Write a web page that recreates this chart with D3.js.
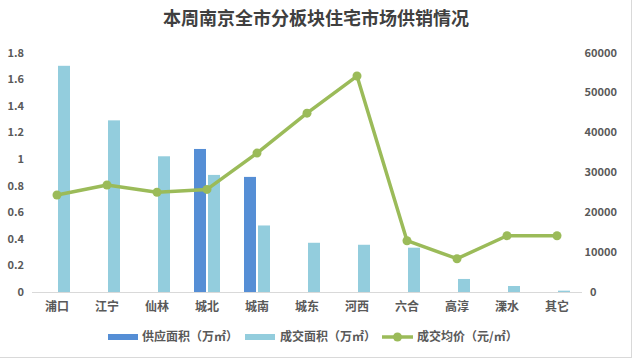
<!DOCTYPE html>
<html><head><meta charset="utf-8">
<script src="https://cdn.jsdelivr.net/npm/d3@7"></script>
<style>body{margin:0;background:#fff}svg{display:block}</style>
</head><body>
<svg id="c" width="633" height="359"></svg>
<script>
const categories = ["浦口","江宁","仙林","城北","城南","城东","河西","六合","高淳","溧水","其它"];
const supplyArea = [0,0,0,1.075,0.865,0,0,0,0,0,0];
const dealArea = [1.70,1.29,1.02,0.88,0.50,0.37,0.355,0.333,0.098,0.045,0.01];
const avgPrice = [24300,26800,25000,25700,34800,44800,54100,12850,8340,14100,14100];
const leftTicks = [0,0.2,0.4,0.6,0.8,1,1.2,1.4,1.6,1.8];
const rightTicks = [0,10000,20000,30000,40000,50000,60000];
const seriesNames = ["供应面积（万㎡）","成交面积（万㎡）","成交均价（元/㎡）"];
const colors = {supply:"#558ED5", deal:"#93CDDD", price:"#9BBB59", text:"#595959"};

const svg = d3.select("#c");
const font = "'Noto Sans CJK SC','Microsoft YaHei',sans-serif";
const L = 32, R = 582, T = 52.5, B = 292;
const x = d3.scaleBand().domain(categories).range([L,R]);
const yL = d3.scaleLinear().domain([0,1.8]).range([B,T]);
const yR = d3.scaleLinear().domain([0,60000]).range([B,T]);

// border
svg.append("line").attr("x1",631.5).attr("x2",631.5).attr("y1",0).attr("y2",357.5).attr("stroke","#d9d9d9");
svg.append("line").attr("x1",0).attr("x2",632).attr("y1",357.5).attr("y2",357.5).attr("stroke","#d9d9d9");

// title
svg.append("text").attr("x",316).attr("y",25).attr("text-anchor","middle")
  .attr("font-family",font).attr("font-weight","bold").attr("font-size",18).attr("fill","#404040")
  .text("本周南京全市分板块住宅市场供销情况");

// left axis labels
svg.append("g").selectAll("text").data(leftTicks).join("text")
  .attr("x",24).attr("y",d=>yL(d)+4).attr("text-anchor","end")
  .attr("font-family",font).attr("font-weight","bold").attr("font-size",11).attr("fill",colors.text)
  .text(d=>d3.format("~g")(d));
// right axis labels
svg.append("g").selectAll("text").data(rightTicks).join("text")
  .attr("x",d=>d===0?590:617).attr("y",d=>yR(d)+4).attr("text-anchor",d=>d===0?"start":"end")
  .attr("font-family",font).attr("font-weight","bold").attr("font-size",11).attr("fill",colors.text)
  .text(d=>d);

// baseline
svg.append("line").attr("x1",L).attr("x2",R).attr("y1",B+0.5).attr("y2",B+0.5).attr("stroke","#d9d9d9");

const bw = 12;
const cx = d=>x(d)+x.bandwidth()/2;
svg.append("g").selectAll("rect").data(categories).join("rect")
  .attr("x",(d)=>cx(d)-13).attr("width",bw)
  .attr("y",(d,i)=>yL(supplyArea[i])).attr("height",(d,i)=>B-yL(supplyArea[i]))
  .attr("fill",colors.supply);
svg.append("g").selectAll("rect").data(categories).join("rect")
  .attr("x",(d)=>cx(d)+1).attr("width",bw)
  .attr("y",(d,i)=>yL(dealArea[i])).attr("height",(d,i)=>B-yL(dealArea[i]))
  .attr("fill",colors.deal);

// line
const line = d3.line().x((d,i)=>cx(categories[i])).y(d=>yR(d));
svg.append("path").attr("d",line(avgPrice)).attr("fill","none").attr("stroke",colors.price)
  .attr("stroke-width",3.5).attr("stroke-linejoin","round");
svg.append("g").selectAll("circle").data(avgPrice).join("circle")
  .attr("cx",(d,i)=>cx(categories[i])).attr("cy",d=>yR(d)).attr("r",4.5).attr("fill",colors.price);

// x labels
svg.append("g").selectAll("text").data(categories).join("text")
  .attr("x",d=>cx(d)).attr("y",311).attr("text-anchor","middle")
  .attr("font-family",font).attr("font-weight","bold").attr("font-size",12).attr("fill",colors.text)
  .text(d=>d);

// legend
const ly = 337;
const lg = svg.append("g");
lg.append("rect").attr("x",108).attr("y",ly-3).attr("width",30).attr("height",6).attr("fill",colors.supply);
lg.append("text").attr("x",142).attr("y",ly+4).attr("font-family",font).attr("font-weight","bold").attr("font-size",12).attr("fill",colors.text).text(seriesNames[0]);
lg.append("rect").attr("x",245).attr("y",ly-3).attr("width",30).attr("height",6).attr("fill",colors.deal);
lg.append("text").attr("x",280).attr("y",ly+4).attr("font-family",font).attr("font-weight","bold").attr("font-size",12).attr("fill",colors.text).text(seriesNames[1]);
lg.append("line").attr("x1",382).attr("x2",413).attr("y1",ly).attr("y2",ly).attr("stroke",colors.price).attr("stroke-width",3.5);
lg.append("circle").attr("cx",397.5).attr("cy",ly).attr("r",4.5).attr("fill",colors.price);
lg.append("text").attr("x",417).attr("y",ly+4).attr("font-family",font).attr("font-weight","bold").attr("font-size",12).attr("fill",colors.text).text(seriesNames[2]);
</script>
</body></html>
